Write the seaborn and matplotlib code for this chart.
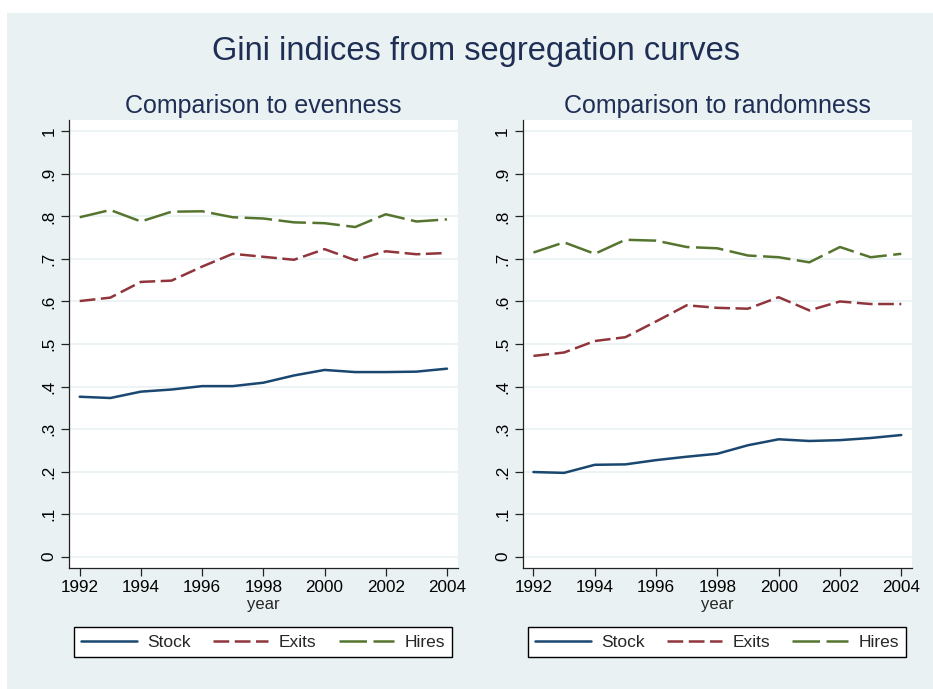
import matplotlib
matplotlib.use("Agg")
import matplotlib.pyplot as plt
from matplotlib.patches import Rectangle
from matplotlib.lines import Line2D
import seaborn as sns
import pandas as pd
import numpy as np

# values
years = list(range(1992, 2005))

even_stock = [0.376, 0.373, 0.388, 0.393, 0.401, 0.401, 0.409, 0.426, 0.439, 0.434, 0.434, 0.435, 0.442]
even_exits = [0.601, 0.609, 0.646, 0.649, 0.682, 0.712, 0.705, 0.698, 0.723, 0.697, 0.718, 0.711, 0.714]
even_hires = [0.798, 0.815, 0.788, 0.811, 0.812, 0.798, 0.795, 0.786, 0.784, 0.775, 0.805, 0.788, 0.793]

rand_stock = [0.199, 0.197, 0.216, 0.217, 0.227, 0.235, 0.242, 0.262, 0.276, 0.272, 0.274, 0.279, 0.286]
rand_exits = [0.472, 0.480, 0.507, 0.516, 0.553, 0.591, 0.585, 0.583, 0.610, 0.579, 0.600, 0.594, 0.594]
rand_hires = [0.715, 0.739, 0.712, 0.745, 0.743, 0.728, 0.725, 0.708, 0.704, 0.692, 0.728, 0.704, 0.712]

series_names = ['Stock', 'Exits', 'Hires']
panel_titles = ['Comparison to evenness', 'Comparison to randomness']
main_title = 'Gini indices from segregation curves'
y_ticks = [0, 0.1, 0.2, 0.3, 0.4, 0.5, 0.6, 0.7, 0.8, 0.9, 1.0]
y_labels = ['0', '.1', '.2', '.3', '.4', '.5', '.6', '.7', '.8', '.9', '1']
x_ticks = [1992, 1994, 1996, 1998, 2000, 2002, 2004]

# Stata s2color look
bg = '#E9F1F3'
title_color = '#1F2E55'
palette = {'Stock': '#1A476F', 'Exits': '#90353B', 'Hires': '#55752F'}
dashes = {'Stock': '', 'Exits': (6.3, 2.2), 'Hires': (11.0, 2.6)}
lw = 1.8


def make_frame(stock, exits, hires):
    return pd.DataFrame({
        'year': years * 3,
        'gini': stock + exits + hires,
        'series': ['Stock'] * len(years) + ['Exits'] * len(years) + ['Hires'] * len(years),
    })


frames = [make_frame(even_stock, even_exits, even_hires),
          make_frame(rand_stock, rand_exits, rand_hires)]

sns.set_style('white')
plt.rcParams['font.family'] = ['Liberation Sans', 'DejaVu Sans']

W, H = 933, 689
fig = plt.figure(figsize=(W / 100, H / 100), dpi=100)
fig.patch.set_facecolor('white')
fig.patches.append(Rectangle((7 / W, 0), 926 / W, 676 / H, transform=fig.transFigure,
                             facecolor=bg, edgecolor='none', zorder=-10))

axes_px = [(69, 120, 458, 568), (522.7, 120, 912.3, 568)]
legend_px = [(74, 625.7, 452, 658.3), (528, 625.7, 905.7, 658.3)]

for df, title, (x0, y0, x1, y1), (lx0, ly0, lx1, ly1) in zip(frames, panel_titles, axes_px, legend_px):
    ax = fig.add_axes([x0 / W, 1 - y1 / H, (x1 - x0) / W, (y1 - y0) / H])
    ax.set_facecolor('white')
    sns.lineplot(data=df, x='year', y='gini', hue='series', style='series',
                 hue_order=series_names, style_order=series_names,
                 palette=palette, dashes=dashes, linewidth=lw, legend=False, ax=ax)

    ax.set_xlim(1991.65, 2004.36)
    ax.set_ylim(-0.0266, 1.0266)
    ax.set_xticks(x_ticks)
    ax.set_xticklabels([str(x) for x in x_ticks])
    ax.set_yticks(y_ticks)
    ax.set_yticklabels(y_labels)
    plt.setp(ax.get_yticklabels(), rotation=90, va='center')
    ax.tick_params(axis='both', direction='out', length=5.5, width=0.9, color='#222222',
                   labelsize=12.3, labelcolor='black', pad=3.5)
    ax.tick_params(axis='x', bottom=True)
    ax.tick_params(axis='y', left=True)

    ax.yaxis.grid(True, color=bg, linewidth=1.2)
    ax.xaxis.grid(False)
    ax.set_axisbelow(True)
    for side in ['top', 'right']:
        ax.spines[side].set_visible(False)
    for side in ['left', 'bottom']:
        ax.spines[side].set_color('#222222')
        ax.spines[side].set_linewidth(0.9)

    ax.set_xlabel('year', fontsize=12, labelpad=1)
    ax.set_ylabel('')
    ax.set_title(title, fontsize=18, color=title_color, pad=5)

    handles = [Line2D([], [], color=palette[n], linewidth=lw) for n in series_names]
    handles[1].set_dashes(dashes['Exits'])
    handles[2].set_dashes(dashes['Hires'])
    leg = ax.legend(handles, series_names, ncol=3, mode='expand', loc='center',
                    bbox_to_anchor=(lx0 / W, 1 - ly1 / H, (lx1 - lx0) / W, (ly1 - ly0) / H),
                    bbox_transform=fig.transFigure, fontsize=12.5, frameon=True,
                    fancybox=False, shadow=False, borderpad=0.4, handlelength=3.2,
                    handletextpad=0.6, columnspacing=1.2, borderaxespad=0)
    leg.get_frame().set_edgecolor('black')
    leg.get_frame().set_linewidth(1.0)
    leg.get_frame().set_facecolor('white')
    leg.get_frame().set_alpha(1)

fig.text(476 / W, 1 - 60 / H, main_title, ha='center', va='baseline',
         fontsize=23.5, color=title_color)

fig.savefig('out.png', dpi=100, facecolor=fig.get_facecolor())
